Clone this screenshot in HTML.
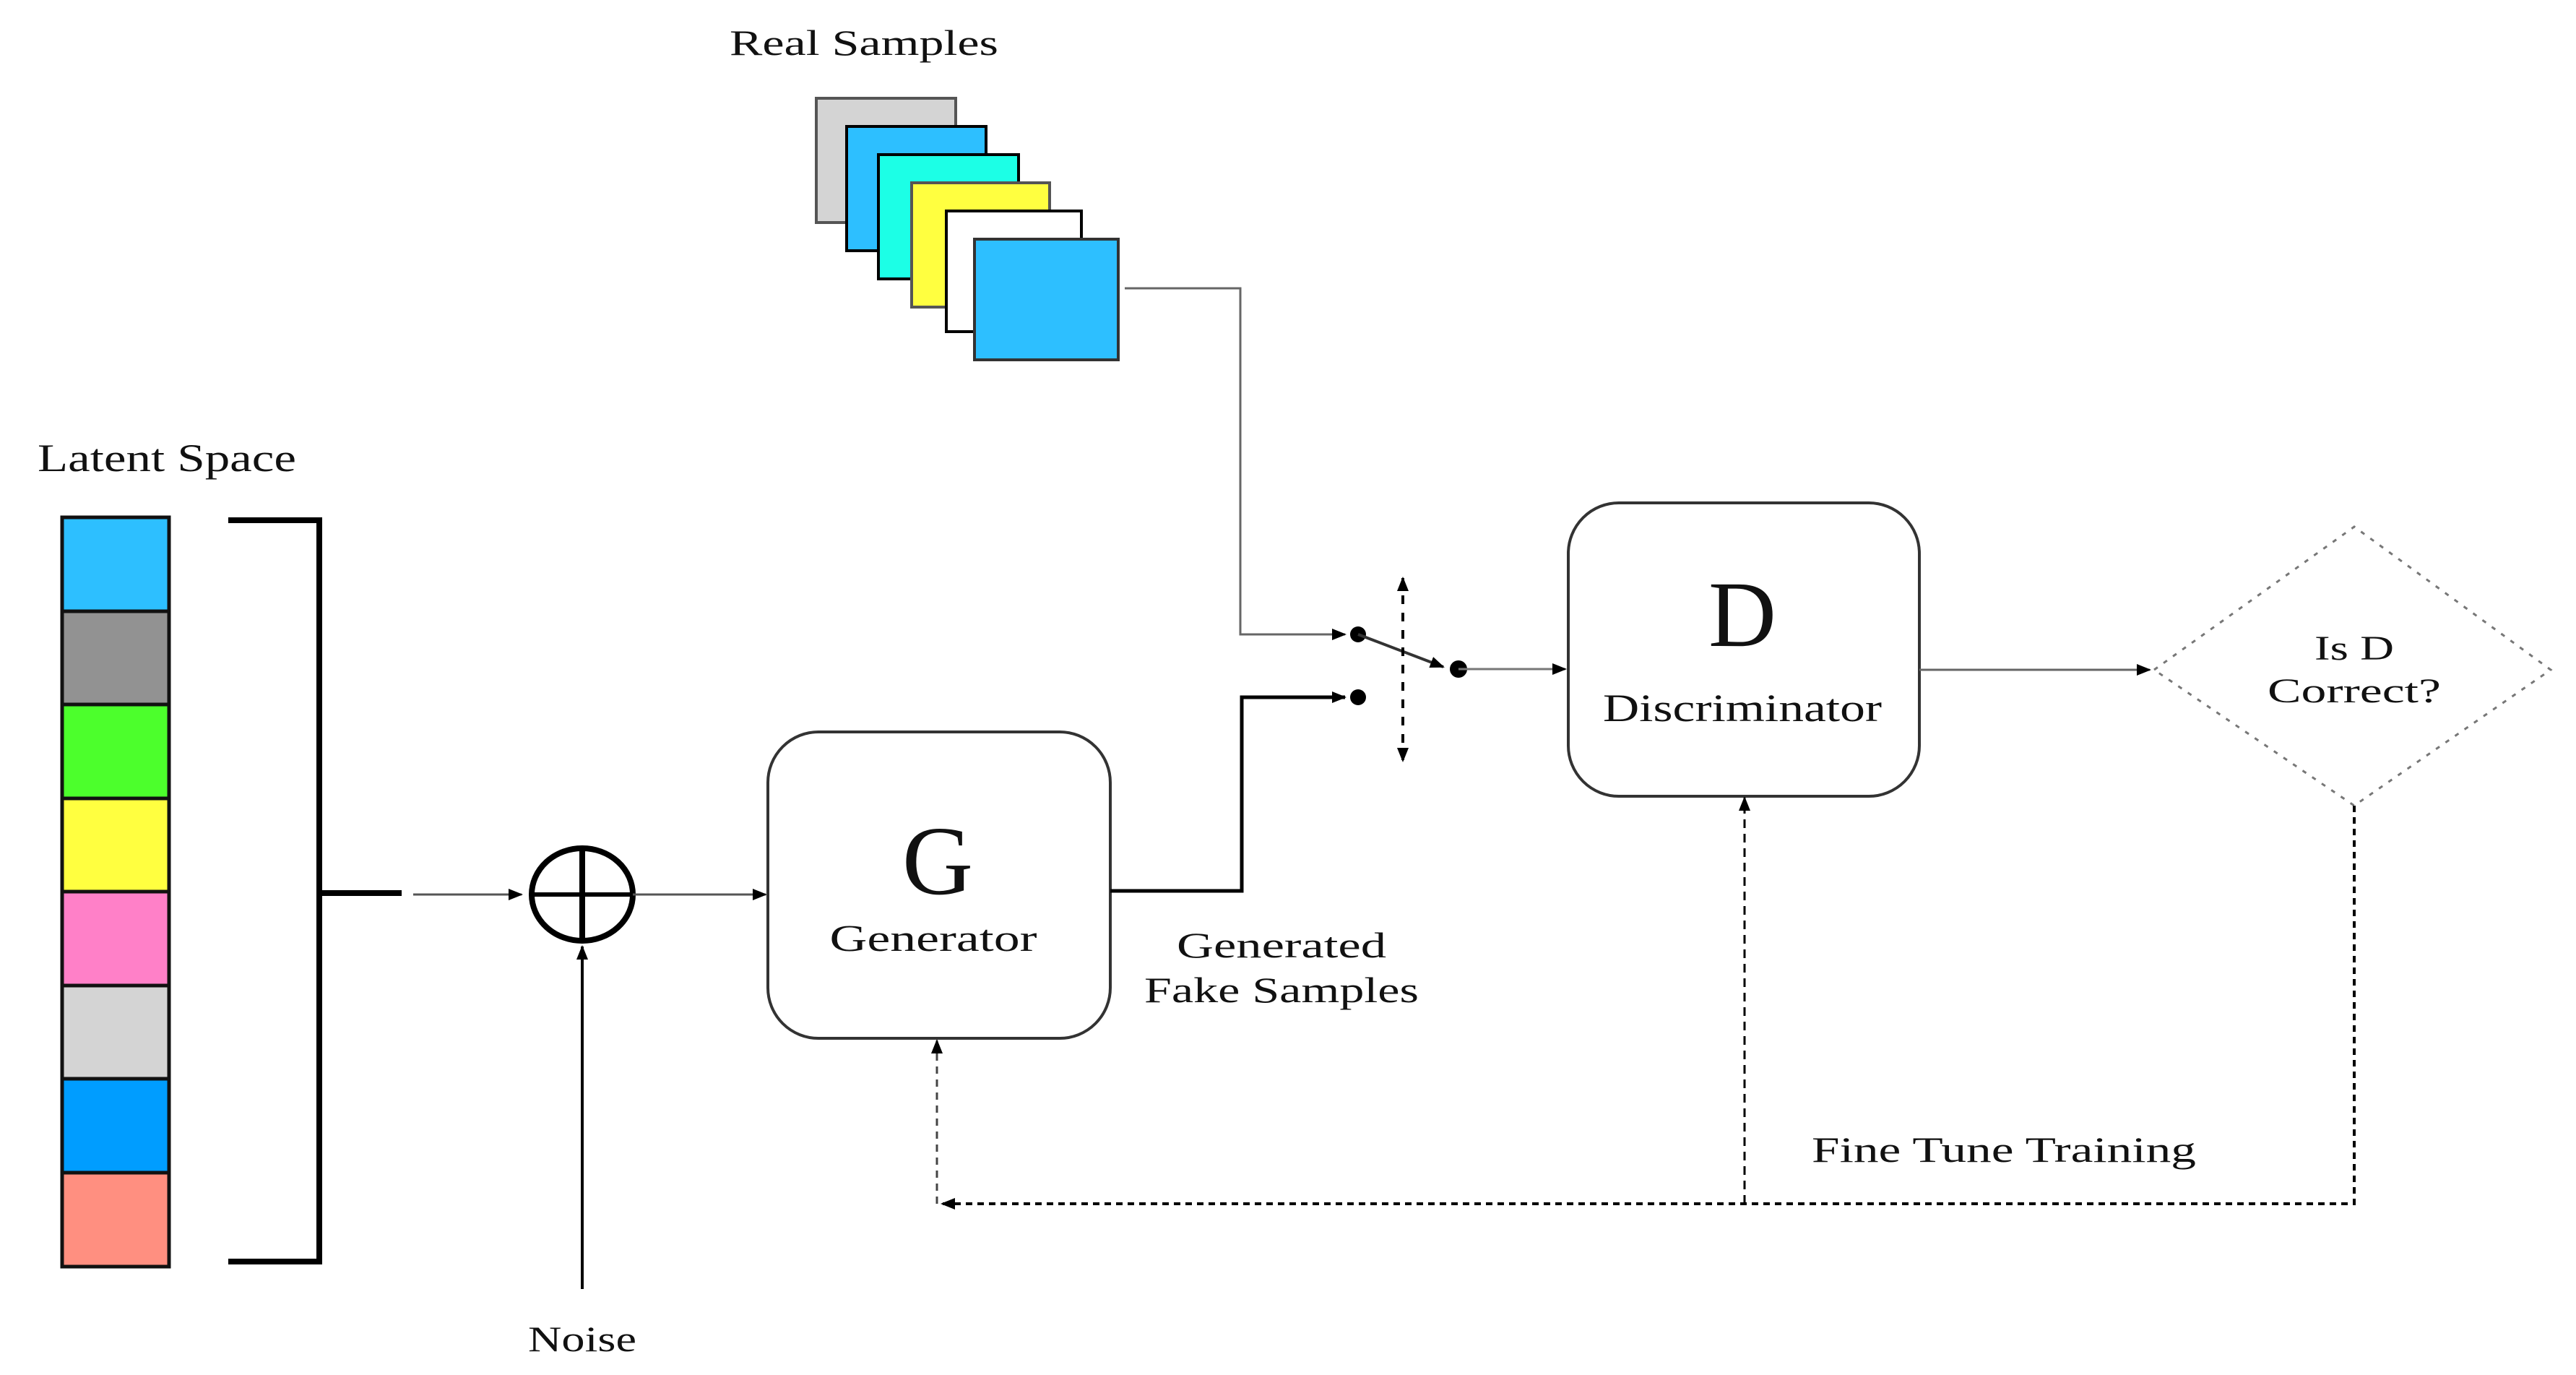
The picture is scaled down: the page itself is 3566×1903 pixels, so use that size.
<!DOCTYPE html>
<html><head><meta charset="utf-8"><style>
html,body{margin:0;padding:0;background:#fff;}
svg{display:block;}
text{font-family:"Liberation Serif",serif;fill:#111;}
</style></head><body>
<svg width="3566" height="1903" viewBox="0 0 3566 1903" xmlns="http://www.w3.org/2000/svg">
<defs>
<marker id="ahb" markerWidth="20" markerHeight="20" refX="18" refY="10" orient="auto" markerUnits="userSpaceOnUse"><path d="M0,2 L20,10 L0,18 z" fill="#000"/></marker>
<marker id="ahs" markerWidth="20" markerHeight="20" refX="2" refY="10" orient="auto" markerUnits="userSpaceOnUse"><path d="M20,2 L0,10 L20,18 z" fill="#000"/></marker>
</defs>

<text x="52" y="652" font-size="54" textLength="358" lengthAdjust="spacingAndGlyphs">Latent Space</text>
<g stroke="#111" stroke-width="5">
<rect x="86" y="716" width="148" height="130" fill="#2dbfff"/>
<rect x="86" y="846" width="148" height="129" fill="#929292"/>
<rect x="86" y="975" width="148" height="130" fill="#4cff2c"/>
<rect x="86" y="1105" width="148" height="129" fill="#ffff40"/>
<rect x="86" y="1234" width="148" height="130" fill="#ff80c8"/>
<rect x="86" y="1364" width="148" height="129" fill="#d4d4d4"/>
<rect x="86" y="1493" width="148" height="130" fill="#009dff"/>
<rect x="86" y="1623" width="148" height="130" fill="#ff8f80"/>
</g>
<path d="M316,720 L442,720 L442,1746 L316,1746 M442,1236 L556,1236" fill="none" stroke="#000" stroke-width="8"/>
<line x1="572" y1="1238" x2="722" y2="1238" stroke="#555" stroke-width="3" marker-end="url(#ahb)"/>
<ellipse cx="806" cy="1238" rx="70" ry="64" fill="none" stroke="#000" stroke-width="8"/>
<line x1="736" y1="1238" x2="876" y2="1238" stroke="#000" stroke-width="6"/>
<line x1="806" y1="1174" x2="806" y2="1302" stroke="#000" stroke-width="8"/>
<line x1="876" y1="1238" x2="1060" y2="1238" stroke="#555" stroke-width="3" marker-end="url(#ahb)"/>
<line x1="806" y1="1784" x2="806" y2="1310" stroke="#000" stroke-width="4" marker-end="url(#ahb)"/>
<text x="806" y="1870" font-size="50" text-anchor="middle" textLength="150" lengthAdjust="spacingAndGlyphs">Noise</text>

<rect x="1063" y="1013" width="474" height="424" rx="70" ry="70" fill="#fff" stroke="#333" stroke-width="4"/>
<text x="1298" y="1237" font-size="136" text-anchor="middle">G</text>
<text x="1292" y="1316" font-size="52" text-anchor="middle" textLength="287" lengthAdjust="spacingAndGlyphs">Generator</text>
<path d="M1537,1233 L1719,1233 L1719,965 L1862,965" fill="none" stroke="#000" stroke-width="5" marker-end="url(#ahb)"/>
<circle cx="1880" cy="965" r="11" fill="#000"/>
<text x="1774" y="1325" font-size="50" text-anchor="middle" textLength="290" lengthAdjust="spacingAndGlyphs">Generated</text>
<text x="1774" y="1387" font-size="50" text-anchor="middle" textLength="380" lengthAdjust="spacingAndGlyphs">Fake Samples</text>

<text x="1010" y="76" font-size="50" textLength="372" lengthAdjust="spacingAndGlyphs">Real Samples</text>
<g stroke-width="4">
<rect x="1130" y="136" width="193" height="172" fill="#d4d4d4" stroke="#555"/>
<rect x="1172" y="175" width="193" height="172" fill="#2dbfff" stroke="#000"/>
<rect x="1216" y="214" width="194" height="172" fill="#1cffe6" stroke="#000"/>
<rect x="1262" y="253" width="191" height="172" fill="#ffff40" stroke="#555"/>
<rect x="1310" y="292" width="187" height="167" fill="#fff" stroke="#000"/>
<rect x="1349" y="331" width="199" height="167" fill="#2dbfff" stroke="#333"/>
</g>
<path d="M1557,399 L1717,399 L1717,878 L1862,878" fill="none" stroke="#666" stroke-width="3" marker-end="url(#ahb)"/>
<circle cx="1880" cy="878" r="11" fill="#000"/>
<line x1="1880" y1="878" x2="1998" y2="923" stroke="#333" stroke-width="4" marker-end="url(#ahb)"/>
<circle cx="2019" cy="926" r="12" fill="#000"/>
<line x1="1942" y1="800" x2="1942" y2="1053" stroke="#000" stroke-width="4" stroke-dasharray="12,12" marker-start="url(#ahs)" marker-end="url(#ahb)"/>
<line x1="2019" y1="926" x2="2167" y2="926" stroke="#777" stroke-width="3" marker-end="url(#ahb)"/>

<rect x="2171" y="696" width="486" height="406" rx="70" ry="70" fill="#fff" stroke="#333" stroke-width="4"/>
<text x="2412" y="894" font-size="130" text-anchor="middle">D</text>
<text x="2412" y="998" font-size="54" text-anchor="middle" textLength="386" lengthAdjust="spacingAndGlyphs">Discriminator</text>
<line x1="2657" y1="927" x2="2976" y2="927" stroke="#666" stroke-width="3" marker-end="url(#ahb)"/>

<polygon points="2982,927 3259,729 3531,927 3259,1115" fill="#fff" stroke="#777" stroke-width="3" stroke-dasharray="6,10"/>
<text x="3259" y="913" font-size="48" text-anchor="middle" textLength="110" lengthAdjust="spacingAndGlyphs">Is D</text>
<text x="3259" y="972" font-size="48" text-anchor="middle" textLength="240" lengthAdjust="spacingAndGlyphs">Correct?</text>

<path d="M3259,1115 L3259,1666 L1304,1666" fill="none" stroke="#000" stroke-width="4" stroke-dasharray="9,7" marker-end="url(#ahb)"/>
<line x1="1297" y1="1666" x2="1297" y2="1440" stroke="#444" stroke-width="3" stroke-dasharray="10,8" marker-end="url(#ahb)"/>
<line x1="2415" y1="1666" x2="2415" y2="1104" stroke="#000" stroke-width="3" stroke-dasharray="12,8" marker-end="url(#ahb)"/>
<text x="2508" y="1608" font-size="50" textLength="532" lengthAdjust="spacingAndGlyphs">Fine Tune Training</text>
</svg>
</body></html>
